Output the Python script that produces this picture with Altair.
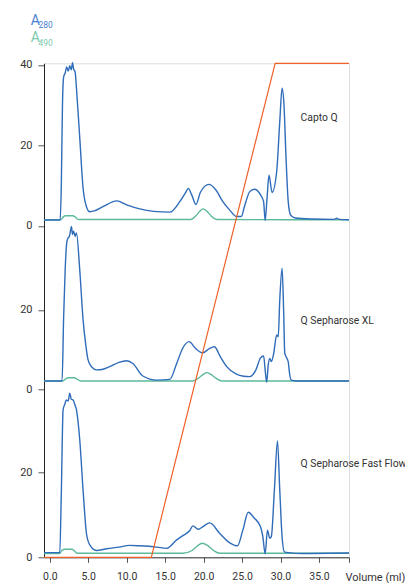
import altair as alt
import pandas as pd

FONT = "Roboto"
BLUE = "#2f6cb9"
TEAL = "#5cb99c"
ORANGE = "#ef6128"
TEXT = "#333333"

PANELS = ["Capto Q", "Q Sepharose XL", "Q Sepharose Fast Flow"]
PANEL_TICKS = [[0, 20, 40], [0, 20], [0, 20]]
LABEL_VOL = 32.6
LABEL_LEVEL = [26.9, 17.2, 22.0]

# ---- Capto Q (top) ----
VOL_CQ = [-0.75, 1.35, 1.5, 1.65, 1.8, 2.0, 2.2, 2.4, 2.6, 2.8, 2.95, 3.1, 3.3, 3.47, 3.9, 4.33,
          4.77, 5.2, 5.8, 6.9, 8.7, 10.0, 11.7, 13.5, 15.6, 16.9, 17.7, 18.0, 18.45, 19.0, 19.6,
          20.7, 21.6, 22.5, 23.4, 24.3, 24.9, 25.3, 26.0, 26.6, 27.4, 27.8, 28.0, 28.25, 28.5,
          28.9, 29.5, 29.9, 30.2, 30.45, 30.7, 31.0, 31.3, 31.8, 34.0, 37.0, 37.3, 37.6, 38.9]
A280_CQ = [1.45, 1.45, 10, 30, 37, 38, 39.5, 38.5, 39.8, 38.8, 40.6, 39, 38.2, 34.2, 21.8, 9.4,
           4.75, 3.5, 3.7, 4.75, 6.2, 5.2, 4.2, 3.6, 3.4, 6.0, 8.4, 9.3, 7.7, 5.3, 8.4,
           10.3, 8.9, 6.0, 3.9, 2.3, 2.3, 4.75, 8.5, 9.1, 7.7, 6.0, 1.3, 7.0, 12.6,
           8.3, 13.5, 25.9, 34.2, 30, 17.6, 6, 2.7, 2.0, 1.7, 1.6, 1.9, 1.6, 1.5]
VOL_CQ_490 = [-0.75, 1.4, 1.8, 2.0, 3.0, 3.3, 3.7, 18.3, 19.0, 19.5, 19.9, 20.4, 21.0, 21.7, 38.9]
A490_CQ = [1.5, 1.5, 2.3, 2.5, 2.5, 2.2, 1.55, 1.55, 2.5, 3.6, 4.2, 3.7, 2.4, 1.55, 1.5]

# ---- Q Sepharose XL (middle) ----
VOL_XL = [-0.75, 1.6, 1.8, 2.0, 2.2, 2.35, 2.55, 2.7, 2.82, 2.95, 3.1, 3.3, 3.47, 3.9, 4.33, 4.68,
          4.98, 5.46, 6.07, 6.8, 7.8, 9.0, 10.0, 10.8, 12.1, 13.9, 15.6, 16.5, 17.3, 18.1, 19.0,
          19.9, 20.7, 21.4, 22.2, 23.0, 24.2, 25.2, 26.0, 26.8, 27.4, 27.8, 28.0, 28.2, 28.4, 28.6,
          28.8, 29.1, 29.5, 29.7, 29.9, 30.2, 30.4, 30.55, 30.8, 31.0, 31.2, 31.4, 32.0, 38.9]
A280_XL = [2.1, 2.1, 18, 30, 36.8, 38, 38.5, 40.0, 41, 39, 39.8, 38.5, 39.4, 30, 17.5, 11.2,
           7.4, 5.6, 4.9, 5.0, 5.7, 6.8, 7.2, 6.5, 3.35, 2.3, 2.5, 6.5, 10.4, 12.0, 10.2,
           9.2, 10.2, 10.7, 8.1, 5.7, 3.9, 3.3, 3.2, 4.9, 7.9, 8.4, 4.9, 1.8, 6.1, 7.8,
           7.0, 8.9, 13.7, 13.2, 22.5, 30.5, 20, 9.1, 7.9, 6.9, 3.6, 2.3, 2.1, 2.1]
VOL_XL_490 = [-0.75, 1.7, 2.1, 2.5, 3.2, 3.6, 4.0, 18.6, 19.4, 20.0, 20.4, 20.9, 21.6, 22.4, 38.9]
A490_XL = [2.1, 2.1, 2.7, 2.9, 2.9, 2.5, 2.1, 2.1, 2.9, 3.8, 4.2, 3.8, 2.8, 2.1, 2.1]

# ---- Q Sepharose Fast Flow (bottom) ----
VOL_FF = [-0.75, 1.3, 1.5, 1.73, 1.95, 2.17, 2.4, 2.6, 2.8, 3.03, 3.25, 3.47, 3.9, 4.33, 4.77,
          5.2, 6.07, 7.4, 9.0, 10.4, 11.7, 13.9, 15.2, 16.5, 17.3, 18.2, 18.6, 19.3, 19.9, 20.8,
          22.1, 23.4, 24.4, 25.1, 25.8, 26.6, 27.4, 27.7, 28.0, 28.3, 28.6, 28.8, 29.2, 29.6,
          29.9, 30.2, 30.5, 31.0, 32.9, 38.9]
A280_FF = [1.1, 1.1, 15, 34.7, 36, 37, 36.8, 38.6, 37.2, 37, 36, 34.7, 27.6, 15.8, 5.6,
           2.9, 1.6, 2.0, 2.4, 2.8, 2.7, 2.4, 2.1, 4.1, 5.1, 6.3, 7.4, 6.6, 7.2, 8.1,
           5.6, 3.4, 2.7, 6.4, 10.6, 9.2, 7.2, 4.85, 0.8, 6.4, 4.5, 4.85, 15.8, 27.4,
           15.8, 4.85, 1.3, 1.1, 0.9, 1.0]
VOL_FF_490 = [-0.75, 1.3, 1.6, 2.0, 2.9, 3.2, 3.6, 17.3, 18.5, 19.2, 19.8, 20.5, 21.3, 22.1, 38.9]
A490_FF = [0.9, 0.9, 1.7, 1.9, 1.9, 1.5, 0.95, 0.95, 1.6, 2.7, 3.3, 2.8, 1.6, 0.95, 0.95]

# ---- salt gradient (% B) ----
GRAD_VOL = [-0.75, 13.2, 29.3, 38.9]
GRAD_PCT = [0, 0, 100, 100]

X_TICKS = [0, 5, 10, 15, 20, 25, 30, 35]

# layout of the stacked panels on one shared vertical scale
PANEL_ZERO = [331.5, 168.0, 0.0]
PANEL_PPU = [4.02, 3.97, 4.25]
Y_TOP = 494.0
X_MIN, X_MAX = -0.75, 38.9


def stacked(vols, vals, i):
    return pd.DataFrame({
        "vol": vols,
        "y": [PANEL_ZERO[i] + v * PANEL_PPU[i] for v in vals],
        "panel": PANELS[i],
    })


blue_df = pd.concat([stacked(VOL_CQ, A280_CQ, 0), stacked(VOL_XL, A280_XL, 1),
                     stacked(VOL_FF, A280_FF, 2)], ignore_index=True)
teal_df = pd.concat([stacked(VOL_CQ_490, A490_CQ, 0), stacked(VOL_XL_490, A490_XL, 1),
                     stacked(VOL_FF_490, A490_FF, 2)], ignore_index=True)
grad_df = pd.DataFrame({"vol": GRAD_VOL, "y": [p / 100 * Y_TOP for p in GRAD_PCT]})
lab_df = pd.DataFrame({
    "vol": [LABEL_VOL] * 3,
    "y": [PANEL_ZERO[i] + LABEL_LEVEL[i] * PANEL_PPU[i] for i in range(3)],
    "label": PANELS,
})

y_ticks, y_labels = [], []
for i, ticks in enumerate(PANEL_TICKS):
    for t in ticks:
        y_ticks.append(round(PANEL_ZERO[i] + t * PANEL_PPU[i], 2))
        y_labels.append(str(t))
y_expr = " : ".join(f"abs(datum.value - {v}) < 0.5 ? '{l}'" for v, l in zip(y_ticks, y_labels)) + " : ''"

x_enc = alt.X("vol:Q",
              scale=alt.Scale(domain=[X_MIN, X_MAX], nice=False, zero=False),
              axis=alt.Axis(values=X_TICKS + [X_MAX],
                            labelExpr=f"datum.value > {X_TICKS[-1] + 1} ? '' : format(datum.value, '.1f')",
                            title="Volume (ml)", titleX=301, titleY=14.5, titleAlign="left",
                            titleBaseline="top", titleFont=FONT, titleFontSize=11,
                            titleFontWeight="normal", titleColor=TEXT,
                            labelFont=FONT, labelFontSize=10.5, labelColor=TEXT,
                            labelPadding=9, labelFlush=False, tickSize=5, tickColor="#555",
                            domainColor="#333", grid=False))
y_enc = alt.Y("y:Q",
              scale=alt.Scale(domain=[0, Y_TOP], nice=False, zero=False),
              axis=alt.Axis(values=y_ticks, labelExpr=y_expr, title=None,
                            labelFont=FONT, labelFontSize=11, labelColor=TEXT,
                            labelPadding=6, labelFlush=False, tickSize=6, tickColor="#555",
                            domainColor="#222", grid=False))

teal = alt.Chart(teal_df).mark_line(color=TEAL, strokeWidth=1.4, interpolate="monotone").encode(
    x=x_enc, y=y_enc, detail="panel:N")
blue = alt.Chart(blue_df).mark_line(color=BLUE, strokeWidth=1.4, interpolate="monotone").encode(
    x=x_enc, y=y_enc, detail="panel:N")
grad = alt.Chart(grad_df).mark_line(color=ORANGE, strokeWidth=1.2).encode(x=x_enc, y=y_enc)
labels = alt.Chart(lab_df).mark_text(align="left", baseline="middle", font=FONT, fontSize=10.4,
                                     color=TEXT).encode(x=x_enc, y=y_enc, text="label:N")


def note(text, x, y, size, color):
    return alt.Chart(pd.DataFrame({"t": [text]})).mark_text(
        align="left", baseline="alphabetic", font=FONT, fontSize=size, color=color
    ).encode(x=alt.value(x), y=alt.value(y), text="t:N")


legend = [
    note("A", -13.3, -38.3, 14, "#4a7fcf"),
    note("280", -5.5, -35.0, 8.5, "#4a7fcf"),
    note("A", -13.3, -21.0, 14, "#7ccab0"),
    note("490", -5.5, -17.6, 8.5, "#7ccab0"),
]

chart = alt.layer(teal, blue, grad, labels, *legend).properties(
    width=305, height=Y_TOP,
    autosize=alt.AutoSizeParams(type="none"),
    padding={"left": 36, "top": 55.3, "right": 56, "bottom": 27},
).configure_view(stroke=None).configure(background="white")

chart.save("out.html", embed_options={"renderer": "svg", "actions": False})
